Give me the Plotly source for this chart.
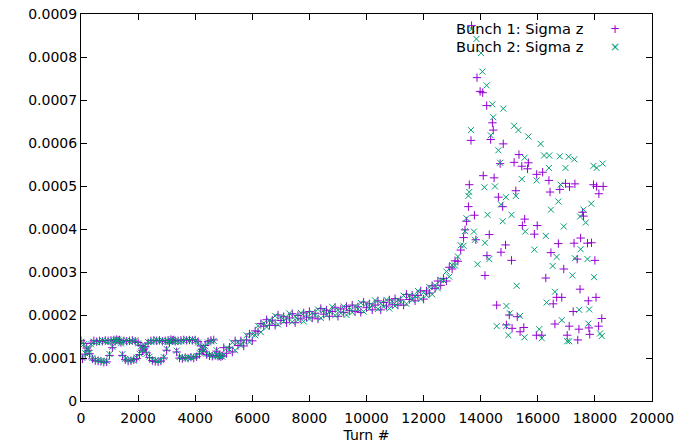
import plotly.graph_objects as go

# ---------------- data (sigma z values in units of 1e-5) ----------------
UNIT = 1e-5

turns_early = list(range(0, 5000, 50))
turns_mid = list(range(5000, 13500, 100))

bunch1_early = [
    14.0, 9.8, 13.4, 10.9, 12.3, 11.8, 11.0, 13.4, 9.8, 14.0,
    9.4, 13.8, 9.3, 14.0, 9.2, 13.9, 9.0, 14.1, 9.1, 14.0,
    10.6, 14.1, 12.4, 14.2, 13.9, 14.3, 14.1, 14.2, 13.6, 10.6,
    14.0, 9.6, 13.9, 9.3, 14.0, 9.4, 14.1, 9.6, 13.9, 9.9,
    13.6, 10.8, 12.9, 11.8, 12.1, 12.6, 11.2, 13.5, 10.1, 14.0,
    9.4, 14.1, 9.2, 14.0, 9.1, 14.1, 9.3, 13.9, 10.0, 14.0,
    11.8, 14.1, 13.6, 14.3, 14.1, 14.2, 13.9, 11.4, 14.0, 10.0,
    14.1, 9.9, 14.2, 10.1, 14.1, 10.0, 14.2, 10.2, 14.1, 10.0,
    14.2, 10.3, 13.8, 11.0, 12.8, 12.0, 11.6, 12.9, 10.8, 13.8,
    10.5, 14.1, 10.4, 14.2, 10.6, 11.6, 10.4, 10.6, 10.3, 10.5,
]
bunch2_early = [
    13.8, 10.0, 13.2, 11.1, 12.1, 12.0, 11.2, 13.2, 10.0, 13.8,
    9.6, 13.6, 9.5, 13.8, 9.4, 14.1, 9.2, 13.9, 9.3, 13.8,
    10.9, 13.9, 12.6, 14.0, 14.1, 14.1, 14.3, 14.0, 13.4, 10.9,
    13.8, 9.8, 14.1, 9.5, 13.8, 9.6, 13.9, 9.4, 14.1, 10.1,
    13.4, 11.0, 12.7, 12.0, 11.9, 12.8, 11.0, 13.7, 10.3, 13.8,
    9.6, 13.9, 9.4, 14.2, 9.3, 13.9, 9.5, 14.1, 10.2, 13.8,
    12.1, 13.9, 13.8, 14.1, 14.3, 14.0, 13.7, 11.7, 13.8, 10.2,
    13.9, 10.1, 14.0, 9.9, 14.3, 10.2, 14.0, 10.0, 14.3, 10.2,
    14.0, 10.5, 13.6, 11.2, 12.6, 12.2, 11.8, 12.7, 11.0, 13.6,
    10.7, 13.9, 10.6, 14.0, 10.4, 11.8, 10.6, 10.4, 10.5, 10.3,
]

bunch1_mid = [
    12.4, 11.1, 12.5, 11.4, 14.0, 12.9, 14.0, 12.8, 14.2, 15.6,
    14.0, 16.3, 16.1, 18.0, 17.4, 18.9, 17.6, 18.8, 17.6, 20.0,
    18.7, 19.6, 18.2, 19.3, 20.3, 18.2, 19.9, 19.1, 20.5, 19.5,
    20.8, 19.3, 20.4, 19.1, 21.5, 20.2, 21.1, 19.7, 20.8, 21.8,
    19.7, 21.4, 20.6, 22.0, 21.0, 22.3, 20.8, 21.9, 20.6, 23.0,
    21.7, 22.6, 21.2, 22.3, 23.3, 21.2, 22.9, 22.1, 23.5, 22.5,
    23.8, 22.3, 23.5, 22.3, 24.8, 23.6, 24.6, 23.3, 24.5, 25.6,
    23.7, 25.6, 25.1, 26.8, 26.2, 27.9, 26.9, 28.5, 27.9, 31.1,
    30.7, 32.6, 32.5, 35.1, 38.0,
]
bunch2_mid = [
    10.7, 12.3, 12.0, 13.6, 11.8, 13.8, 12.9, 13.9, 15.3, 13.7,
    15.5, 15.3, 17.5, 16.0, 18.1, 17.2, 18.8, 18.3, 19.8, 17.8,
    19.6, 18.5, 19.3, 20.4, 18.4, 19.7, 18.9, 20.5, 18.5, 20.2,
    19.1, 20.5, 19.9, 21.3, 19.3, 21.1, 20.0, 20.8, 21.9, 19.9,
    21.2, 20.4, 22.0, 20.0, 21.7, 20.6, 22.0, 21.4, 22.8, 20.8,
    22.6, 21.5, 22.3, 23.4, 21.4, 22.7, 21.9, 23.5, 21.5, 23.2,
    22.1, 23.5, 23.0, 24.5, 22.6, 24.5, 23.5, 24.4, 25.6, 23.7,
    25.2, 24.6, 26.5, 24.8, 26.9, 26.2, 28.1, 28.0, 30.1, 28.9,
    31.6, 31.5, 33.6, 36.2, 36.1,
]

bunch1_turns_tail = [
    13450, 13500, 13570, 13600, 13660, 13680, 13780, 13830, 13870, 13980,
    14070, 14090, 14150, 14210, 14220, 14300, 14350, 14410, 14440, 14470,
    14560, 14620, 14680, 14710, 14770, 14790, 14870, 14900, 15000, 15080,
    15100, 15170, 15230, 15280, 15340, 15380, 15440, 15460, 15510, 15540,
    15640, 15670, 15880, 15950, 15960, 15980, 16140, 16170, 16280, 16390,
    16430, 16460, 16540, 16600, 16660, 16720, 16770, 16840, 16910, 16970,
    17030, 17100, 17110, 17240, 17270, 17300, 17380, 17400, 17440, 17480,
    17500, 17570, 17600, 17740, 17770, 17790, 17820, 17880, 17950, 18000,
    18040, 18060, 18130, 18140, 18240, 18290,
]
bunch1_tail = [
    39.8, 41.8, 45.2, 50.3, 60.6, 87.3, 43.2, 37.5, 75.2, 72.0,
    71.7, 52.4, 29.2, 68.7, 33.8, 38.7, 60.8, 64.7, 63.0, 51.9,
    22.3, 47.4, 55.2, 34.6, 45.2, 59.8, 36.3, 17.7, 20.0, 32.7,
    16.9, 55.5, 48.9, 19.6, 57.3, 16.1, 54.6, 40.8, 17.1, 42.3,
    54.0, 55.4, 38.8, 15.3, 52.7, 40.8, 15.3, 53.2, 28.6, 51.3,
    48.6, 34.5, 22.6, 17.9, 24.1, 36.6, 49.2, 24.1, 30.7, 50.6,
    15.3, 17.4, 49.8, 20.8, 36.7, 50.5, 33.0, 14.2, 16.7, 26.0,
    37.9, 43.9, 43.0, 36.7, 23.3, 17.0, 15.5, 36.8, 50.3, 32.7,
    24.1, 49.9, 17.4, 48.2, 19.2, 49.9,
]

bunch2_turns_tail = [
    13450, 13500, 13570, 13600, 13660, 13680, 13760, 13800, 13850, 13890,
    14010, 14060, 14130, 14150, 14210, 14240, 14300, 14350, 14410, 14440,
    14500, 14560, 14620, 14680, 14710, 14770, 14790, 14880, 14890, 14900,
    14970, 15020, 15080, 15170, 15230, 15260, 15320, 15380, 15440, 15530,
    15540, 15560, 15670, 15880, 15960, 16050, 16100, 16140, 16220, 16280,
    16310, 16390, 16400, 16460, 16520, 16600, 16660, 16720, 16770, 16800,
    16840, 16910, 16970, 17030, 17080, 17100, 17210, 17280, 17300, 17450,
    17480, 17500, 17600, 17680, 17740, 17770, 17800, 17870, 17950, 17970,
    18060, 18180, 18240, 18270,
]
bunch2_tail = [
    39.5, 42.5, 47.7, 48.6, 63.0, 86.5, 39.4, 37.5, 84.2, 31.8,
    80.9, 76.6, 49.7, 36.8, 73.4, 43.3, 33.0, 61.8, 69.0, 66.0,
    49.9, 17.4, 58.3, 55.4, 45.7, 41.8, 68.0, 47.4, 17.4, 22.1,
    15.3, 20.4, 43.3, 64.0, 47.7, 26.8, 63.0, 19.8, 51.6, 14.8,
    56.6, 39.4, 61.5, 35.2, 51.3, 16.7, 59.8, 14.6, 57.1, 38.4,
    22.9, 54.2, 57.1, 44.5, 31.4, 25.4, 33.5, 46.4, 56.9, 50.3,
    18.8, 40.6, 54.2, 13.9, 56.8, 13.9, 29.2, 56.2, 33.2, 21.2,
    42.9, 35.3, 44.5, 41.5, 33.0, 18.0, 21.3, 45.9, 54.7, 28.8,
    54.2, 15.7, 15.1, 55.2,
]

x_tick_vals = [0, 2000, 4000, 6000, 8000, 10000, 12000, 14000, 16000, 18000, 20000]
x_tick_text = ["0", "2000", "4000", "6000", "8000", "10000", "12000",
               "14000", "16000", "18000", "20000"]
y_tick_vals = [0, 0.0001, 0.0002, 0.0003, 0.0004, 0.0005, 0.0006, 0.0007, 0.0008, 0.0009]
y_tick_text = ["0", "0.0001", "0.0002", "0.0003", "0.0004", "0.0005",
               "0.0006", "0.0007", "0.0008", "0.0009"]

series_names = ["Bunch 1: Sigma z", "Bunch 2: Sigma z"]
PURPLE = "#9400d3"
GREEN = "#009e73"

# ---------------- figure ----------------
x1 = turns_early + turns_mid + bunch1_turns_tail
y1 = [v * UNIT for v in bunch1_early + bunch1_mid + bunch1_tail]
x2 = turns_early + turns_mid + bunch2_turns_tail
y2 = [v * UNIT for v in bunch2_early + bunch2_mid + bunch2_tail]

FONT = "DejaVu Sans"

fig = go.Figure()
fig.add_trace(go.Scatter(
    x=x1, y=y1, mode="markers", name=series_names[0], showlegend=False,
    marker=dict(symbol="cross-thin", size=6, color=PURPLE,
                line=dict(color=PURPLE, width=1)),
))
fig.add_trace(go.Scatter(
    x=x2, y=y2, mode="markers", name=series_names[1], showlegend=False,
    marker=dict(symbol="x-thin", size=6, color=GREEN,
                line=dict(color=GREEN, width=1)),
))

W, H = 696, 445
L, R, T, B = 81, 44, 14, 44
pw, ph = W - L - R, H - T - B

def px_x(p):
    return (p - L) / pw

def px_y(p):
    return (H - B - p) / ph

# legend drawn gnuplot-style (text, then sample symbol on the right)
for i, (name, sym, col) in enumerate([(series_names[0], "+", PURPLE),
                                      (series_names[1], "×", GREEN)]):
    yy = px_y(29 + i * 17.5)
    fig.add_annotation(x=px_x(586), y=yy, xref="paper", yref="paper",
                       text=name, showarrow=False, xanchor="right", yanchor="middle",
                       font=dict(family=FONT, size=14.6, color="#000000"))
    fig.add_annotation(x=px_x(615), y=yy, xref="paper", yref="paper",
                       text=sym, showarrow=False, xanchor="center", yanchor="middle",
                       font=dict(family=FONT, size=12, color=col))

# right edge of the original image crops the last tick label
fig.add_shape(type="rect", xref="paper", yref="paper",
              x0=px_x(674), x1=px_x(720), y0=px_y(445), y1=px_y(404),
              fillcolor="white", line=dict(width=0), layer="above")

axis_common = dict(showline=True, linecolor="black", linewidth=1, mirror="allticks",
                   ticks="inside", ticklen=6, tickwidth=1, tickcolor="black",
                   showgrid=False, zeroline=False, automargin=False,
                   tickfont=dict(family=FONT, size=14, color="#000000"))

fig.update_layout(
    width=W, height=H,
    margin=dict(l=L, r=R, t=T, b=B, pad=0, autoexpand=False),
    paper_bgcolor="white", plot_bgcolor="white",
    xaxis=dict(range=[0, 20000], tickmode="array", tickvals=x_tick_vals,
               ticktext=x_tick_text, ticklabelstandoff=4,
               title=dict(text="Turn #", font=dict(family=FONT, size=14, color="#000000"),
                          standoff=5),
               **axis_common),
    yaxis=dict(range=[0, 0.0009], tickmode="array", tickvals=y_tick_vals,
               ticktext=y_tick_text, **axis_common),
)

fig.write_html("out.html")
